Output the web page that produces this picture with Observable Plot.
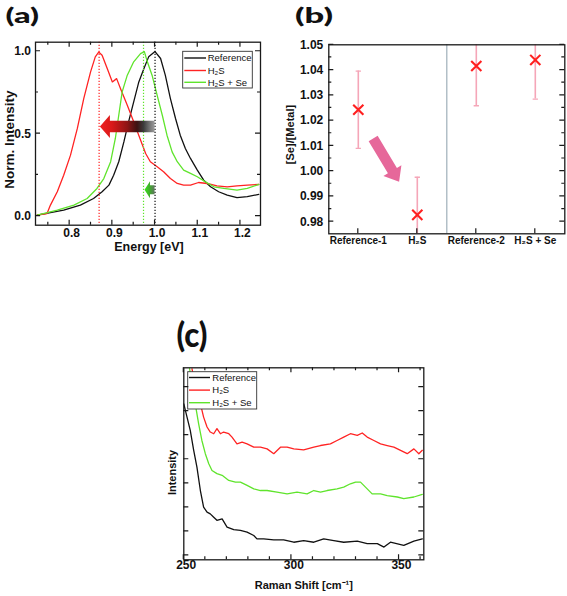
<!DOCTYPE html>
<html>
<head>
<meta charset="utf-8">
<script src="https://cdn.jsdelivr.net/npm/d3@7"></script>
<script src="https://cdn.jsdelivr.net/npm/@observablehq/plot@0.6"></script>
<style>
html,body{margin:0;padding:0;background:#fff;}
#wrap{position:relative;width:567px;height:596px;overflow:hidden;background:#fff;}
#wrap svg{position:absolute;max-width:none;}
</style>
</head>
<body>
<div id="wrap"></div>
<script>
// ---------------- Panel (a): normalized intensity vs energy ----------------
const refE = [0.724,0.786,0.825,0.856,0.876,0.892,0.903,0.915,0.927,0.938,0.95,0.962,0.974,0.985,1.0,1.013,1.024,1.036,1.048,1.059,1.071,1.083,1.099,1.114,1.13,1.149,1.169,1.192,1.216,1.243];
const refI = [0.006,0.036,0.067,0.107,0.148,0.188,0.248,0.33,0.45,0.572,0.693,0.814,0.895,0.966,0.998,0.956,0.855,0.713,0.592,0.491,0.41,0.35,0.279,0.218,0.178,0.148,0.127,0.112,0.118,0.132];
const h2sE = [0.724,0.747,0.755,0.771,0.786,0.802,0.818,0.833,0.849,0.86,0.868,0.876,0.888,0.9,0.91,0.919,0.935,0.95,0.966,0.978,0.989,1.005,1.02,1.036,1.052,1.067,1.083,1.102,1.122,1.145,1.169,1.192,1.216,1.243];
const h2sI = [0.006,0.016,0.067,0.148,0.248,0.37,0.532,0.713,0.875,0.966,0.995,0.976,0.895,0.814,0.834,0.774,0.673,0.572,0.462,0.38,0.33,0.299,0.269,0.228,0.198,0.188,0.188,0.204,0.198,0.184,0.178,0.184,0.188,0.192];
const seE = [0.724,0.771,0.81,0.841,0.864,0.88,0.896,0.907,0.915,0.923,0.935,0.95,0.966,0.975,0.982,0.993,1.005,1.017,1.028,1.04,1.052,1.067,1.083,1.099,1.118,1.138,1.161,1.192,1.216,1.243];
const seI = [0.006,0.036,0.067,0.107,0.168,0.228,0.33,0.471,0.612,0.754,0.855,0.936,0.986,0.998,0.936,0.855,0.733,0.612,0.491,0.39,0.33,0.279,0.259,0.239,0.208,0.178,0.168,0.158,0.168,0.192];
const seriesNames = ["Reference", "H₂S", "H₂S + Se"];
const seriesColors = ["#111111", "#ff2323", "#5fe42c"];
const aPeakE = [1.0, 0.869, 0.973];
const aXTicks = [0.8, 0.9, 1.0, 1.1, 1.2];
const aXMinor = [0.75, 0.85, 0.95, 1.05, 1.15];
const aYTicks = [0, 0.5, 1.0];
const aYMinor = [0.25, 0.75];
const aShiftRed = {from: 1.0, to: 0.872, y: 0.54};
const aShiftGreen = {from: 1.0, to: 0.9765, y: 0.157};

// ---------------- Panel (b): [Se]/[Metal] ratio ----------------
const bCats = ["Reference-1", "H₂S", "Reference-2", "H₂S + Se"];
const bRatio = [1.0243, 0.9827, 1.0416, 1.0440];
const bErr = [0.0153, 0.0149, 0.0157, 0.0155];
const bYTicks = [0.98, 0.99, 1.00, 1.01, 1.02, 1.03, 1.04, 1.05];
const bYMinor = [0.985, 0.995, 1.005, 1.015, 1.025, 1.035, 1.045];
const bDivider = [2.5];
const bTrend = {x1: 1.26, y1: 1.0127, x2: 1.70, y2: 0.9956};

// ---------------- Panel (c): Raman spectra ----------------
const ramRefX = [250,251.5,253,254.6,256.1,257.7,259.2,260.8,262.3,263.9,265.4,267.8,270.1,273.2,276.3,279.4,282.5,284,287.1,291.8,296.4,301.1,305.7,310.4,315,319.7,324.3,330.6,335.2,339.9,343,346,352.2,356.9,360.8];
const ramRefY = [7.3,6.75,6.2,5.37,4.67,3.7,3.01,2.8,2.73,2.59,2.46,2.52,2.18,2.07,2.04,1.97,1.83,1.69,1.69,1.65,1.65,1.55,1.62,1.55,1.69,1.62,1.55,1.6,1.49,1.49,1.35,1.55,1.42,1.6,1.69];
const ramH2sX = [253.8,254.6,256.1,257.7,259.2,260.8,262.3,263.9,265.4,267,268.5,270.9,272.4,274.7,277.1,279.4,282.5,285.6,288.7,291.8,294.9,298,301.1,305.7,310.4,313.5,318.1,321.2,324.3,327.4,330.6,332.9,335.2,338.3,341.4,344.5,347.6,350.7,353.8,356.9,359.2,360.8];
const ramH2sY = [8.76,8.42,7.86,7.31,6.75,6.34,6.13,6.06,6.27,6.06,6.13,6.06,5.92,5.64,5.71,5.64,5.5,5.5,5.43,5.23,5.5,5.5,5.43,5.39,5.5,5.57,5.64,5.78,5.92,6.06,5.99,6.09,5.92,5.78,5.64,5.57,5.5,5.37,5.23,5.43,5.23,5.37];
const ramSeX = [252.7,253.8,255.3,256.9,258.4,260,261.6,263.1,265.4,267.8,270.9,274,276.3,279.4,282.5,285.6,288.7,293.3,298,302.6,307.3,310.4,313.5,316.6,321.2,324.3,327.4,329.8,332.1,334.4,337.5,341.4,344.5,349.2,352.2,356.9,360.8];
const ramSeY = [8.76,8.14,7.31,6.47,5.78,5.23,4.81,4.53,4.4,4.33,4.12,4.05,4.05,3.91,3.77,3.7,3.7,3.63,3.56,3.63,3.56,3.7,3.63,3.7,3.77,3.84,3.98,4.05,4.05,3.84,3.56,3.56,3.49,3.43,3.36,3.43,3.54];
const cXTicks = [250, 300, 350];
const cXMinor = [260, 270, 280, 290, 310, 320, 330, 340, 360];
const cYTicks = [1, 2, 3, 4, 5, 6, 7, 8];

// ---------------- helpers ----------------
const NS = "http://www.w3.org/2000/svg";
const SANS = "'Liberation Sans', Arial, Helvetica, sans-serif";
const el = (tag, attrs) => { const e = document.createElementNS(NS, tag); for (const k in attrs) e.setAttribute(k, attrs[k]); return e; };
const rowsOf = (xs, ys) => xs.map((x, i) => ({x, y: ys[i]}));
let gradSeq = 0;

// block arrow through the scales, optionally with a gradient (tip -> tail)
function blockArrow({x1, y1, x2, y2, shaft, head, headLen, fill, stops}) {
  return (index, scales) => {
    const X1 = scales.x(x1), Y1 = scales.y(y1), X2 = scales.x(x2), Y2 = scales.y(y2);
    const dx = X2 - X1, dy = Y2 - Y1, len = Math.hypot(dx, dy);
    const ux = dx / len, uy = dy / len, nx = -uy, ny = ux;
    const bx = X2 - ux * headLen, by = Y2 - uy * headLen;
    const s = shaft / 2, h = head / 2;
    const pts = [[X1 + nx*s, Y1 + ny*s], [bx + nx*s, by + ny*s], [bx + nx*h, by + ny*h], [X2, Y2],
                 [bx - nx*h, by - ny*h], [bx - nx*s, by - ny*s], [X1 - nx*s, Y1 - ny*s]];
    const g = el("g", {});
    let paint = fill;
    if (stops) {
      const id = "arrowgrad" + (++gradSeq);
      const defs = el("defs", {});
      const lg = el("linearGradient", {id, gradientUnits: "userSpaceOnUse", x1: X2, y1: Y2, x2: X1, y2: Y1});
      for (const [o, c, op] of stops) lg.appendChild(el("stop", {offset: o, "stop-color": c, "stop-opacity": op ?? 1}));
      defs.appendChild(lg); g.appendChild(defs);
      paint = `url(#${id})`;
    }
    g.appendChild(el("path", {d: "M" + pts.map(p => p.join(",")).join("L") + "Z", fill: paint}));
    return g;
  };
}

// inward ticks on the frame
function innerTicks({xMajor = [], xMinor = [], yMajor = [], yMinor = [], xSides = "bt", ySides = "lr", major = 5, minor = 3}) {
  return (index, scales, values, dim) => {
    const L = dim.marginLeft, R = dim.width - dim.marginRight, T = dim.marginTop, B = dim.height - dim.marginBottom;
    let d = "";
    const addX = (arr, len) => { for (const v of arr) { const p = scales.x(v); if (xSides.includes("b")) d += `M${p},${B}v${-len}`; if (xSides.includes("t")) d += `M${p},${T}v${len}`; } };
    const addY = (arr, len) => { for (const v of arr) { const p = scales.y(v); if (ySides.includes("l")) d += `M${L},${p}h${len}`; if (ySides.includes("r")) d += `M${R},${p}h${-len}`; } };
    addX(xMajor, major); addX(xMinor, minor); addY(yMajor, major); addY(yMinor, minor);
    return el("path", {d, fill: "none", stroke: "#1a1a1a", "stroke-width": 1.2});
  };
}

// legend box anchored to a frame corner
function legendBox({corner, offX, offY, w, h, rowY, s1, s2, tx, fontSize}) {
  return (index, scales, values, dim) => {
    const L = dim.marginLeft, R = dim.width - dim.marginRight, T = dim.marginTop;
    const left = corner === "right" ? R - offX - w : L + offX, top = T + offY;
    const g = el("g", {});
    g.appendChild(el("rect", {x: left, y: top, width: w, height: h, fill: "#fff", stroke: "#333", "stroke-width": 0.9}));
    seriesNames.forEach((name, i) => {
      const y = top + rowY[i];
      g.appendChild(el("line", {x1: left + s1, x2: left + s2, y1: y, y2: y, stroke: seriesColors[i], "stroke-width": 1.4}));
      const t = el("text", {x: left + tx, y, dy: "0.35em", "text-anchor": "start", "font-size": fontSize, "font-family": SANS, "font-weight": "normal", fill: "#111"});
      t.textContent = name;
      g.appendChild(t);
    });
    return g;
  };
}

const wrap = document.getElementById("wrap");
const place = (svg, left, top, w, h) => {
  svg.style.left = left + "px"; svg.style.top = top + "px";
  svg.style.width = w + "px"; svg.style.height = h + "px";
  wrap.appendChild(svg);
};
const baseStyle = {fontFamily: SANS, background: "transparent", overflow: "visible", color: "#111"};

// ---------------- Panel (a) ----------------
const aRows = [rowsOf(refE, refI), rowsOf(h2sE, h2sI), rowsOf(seE, seI)];
const svgA = Plot.plot({
  width: 290, height: 262,
  marginLeft: 35, marginRight: 30, marginTop: 41.7, marginBottom: 37.3,
  x: {domain: [0.72, 1.247], axis: null},
  y: {domain: [-0.055, 1.055], axis: null},
  style: baseStyle,
  marks: [
    ...aRows.map((rows, k) => Plot.line(rows, {x: "x", y: "y", stroke: seriesColors[k], strokeWidth: 1.3, clip: true})),
    ...aPeakE.map((e, k) => Plot.ruleX([e], {x: d => d, stroke: seriesColors[k], strokeWidth: 1.2, strokeDasharray: "1.4,1.6"})),
    blockArrow({x1: aShiftRed.from, y1: aShiftRed.y, x2: aShiftRed.to, y2: aShiftRed.y, shaft: 11.5, head: 23, headLen: 10,
      stops: [[0, "#ee2222"], [0.22, "#d91a1a"], [0.5, "#8e1515"], [0.68, "#3d1212"], [0.8, "#3c3c3c"], [1, "#8a8a8a", 0.85]]}),
    blockArrow({x1: aShiftGreen.from, y1: aShiftGreen.y, x2: aShiftGreen.to, y2: aShiftGreen.y, shaft: 9, head: 17, headLen: 5.5,
      stops: [[0, "#39e21a"], [0.5, "#3fae2a"], [1, "#4d6a4d", 0.9]]}),
    innerTicks({xMajor: aXTicks, xMinor: aXMinor, yMajor: aYTicks, yMinor: aYMinor}),
    Plot.frame({stroke: "#1a1a1a", strokeWidth: 1.3}),
    legendBox({corner: "right", offX: 7.7, offY: 9.6, w: 69.6, h: 36.7, rowY: [6.7, 19.2, 31], s1: 1.6, s2: 23.3, tx: 25, fontSize: 9.5}),
    Plot.text(aXTicks, {x: d => d, text: d => d.toFixed(1), frameAnchor: "bottom", textAnchor: "middle", dy: 11.8, dx: 2, fontSize: 12, fontWeight: "bold"}),
    Plot.text(aYTicks, {y: d => d, text: d => d.toFixed(1), frameAnchor: "left", textAnchor: "end", dx: -4.5, fontSize: 12, fontWeight: "bold"}),
    Plot.text(["Energy [eV]"], {text: d => d, frameAnchor: "bottom", textAnchor: "middle", dy: 25.8, dx: 1, fontSize: 12.5, fontWeight: "bold"}),
    Plot.text(["Norm. Intensity"], {text: d => d, frameAnchor: "left", textAnchor: "middle", rotate: -90, dx: -26.2, dy: 6, fontSize: 13.5, fontWeight: "bold"})
  ]
});
place(svgA, 0, 0, 290, 262);

// ---------------- Panel (b) ----------------
const bRows = bCats.map((c, i) => ({i: i + 1, v: bRatio[i], lo: bRatio[i] - bErr[i], hi: bRatio[i] + bErr[i]}));
const bIdx = bCats.map((c, i) => i + 1);
const svgB = Plot.plot({
  width: 289, height: 262,
  marginLeft: 50.3, marginRight: 2.7, marginTop: 44.3, marginBottom: 28.7,
  x: {domain: [0.5, 4.5], axis: null},
  y: {domain: [0.9752, 1.05], axis: null},
  style: baseStyle,
  marks: [
    Plot.ruleX(bDivider, {x: d => d, stroke: "#9fb0ba", strokeWidth: 1.2}),
    Plot.ruleX(bRows, {x: "i", y1: "lo", y2: "hi", stroke: "#f5a6b8", strokeWidth: 1.6, clip: true}),
    Plot.link(bRows, {x1: d => d.i - 0.045, x2: d => d.i + 0.045, y1: "lo", y2: "lo", stroke: "#f5a6b8", strokeWidth: 1.4, clip: true}),
    Plot.link(bRows, {x1: d => d.i - 0.045, x2: d => d.i + 0.045, y1: "hi", y2: "hi", stroke: "#f5a6b8", strokeWidth: 1.4, clip: true}),
    blockArrow({...bTrend, shaft: 10.5, head: 21, headLen: 13, fill: "#e6689a"}),
    Plot.dot(bRows, {x: "i", y: "v", symbol: "times", r: 4.7, stroke: "#ff1f1f", strokeWidth: 2.1}),
    innerTicks({xMajor: bIdx, xSides: "b", yMajor: bYTicks, yMinor: bYMinor}),
    Plot.frame({stroke: "#1a1a1a", strokeWidth: 1.3}),
    Plot.text(bIdx, {x: d => d, text: d => bCats[d - 1], frameAnchor: "bottom", textAnchor: "middle", dy: 10, fontSize: 10, fontWeight: "bold"}),
    Plot.text(bYTicks, {y: d => d, text: d => d.toFixed(2), frameAnchor: "left", textAnchor: "end", dx: -5.5, fontSize: 12, fontWeight: "bold"}),
    Plot.text(["[Se]/[Metal]"], {text: d => d, frameAnchor: "left", textAnchor: "middle", rotate: -90, dx: -38.8, dy: -4.8, fontSize: 11, fontWeight: "bold"})
  ]
});
place(svgB, 278, 0, 289, 262);

// ---------------- Panel (c) ----------------
const cRows = [rowsOf(ramRefX, ramRefY), rowsOf(ramH2sX, ramH2sY), rowsOf(ramSeX, ramSeY)];
const svgC = Plot.plot({
  width: 300, height: 296,
  marginLeft: 33.3, marginRight: 26.7, marginTop: 67.3, marginBottom: 36.7,
  x: {domain: [250, 361.5], axis: null},
  y: {domain: [0.82, 8.8], axis: null},
  style: baseStyle,
  marks: [
    ...cRows.map((rows, k) => Plot.line(rows, {x: "x", y: "y", stroke: seriesColors[k], strokeWidth: 1.3, clip: true})),
    legendBox({corner: "left", offX: 4.4, offY: 4.4, w: 69, h: 37.3, rowY: [5.8, 18.4, 31], s1: 1.3, s2: 22.3, tx: 24.6, fontSize: 9.5}),
    innerTicks({xMajor: cXTicks, xMinor: cXMinor, yMajor: cYTicks}),
    Plot.frame({stroke: "#1a1a1a", strokeWidth: 1.3}),
    Plot.text(cXTicks, {x: d => d, text: d => String(d), frameAnchor: "bottom", textAnchor: "middle", dy: 8.7, dx: 2.4, fontSize: 12, fontWeight: "bold"}),
    Plot.text(["Raman Shift [cm⁻¹]"], {text: d => d, frameAnchor: "bottom", textAnchor: "middle", dy: 29, fontSize: 11, fontWeight: "bold"}),
    Plot.text(["Intensity"], {text: d => d, frameAnchor: "left", textAnchor: "middle", rotate: -90, dx: -11.6, dy: 8.7, fontSize: 11, fontWeight: "bold"})
  ]
});
place(svgC, 150, 300, 300, 296);

// ---------------- Panel letters ----------------
const over = el("svg", {width: 567, height: 596, viewBox: "0 0 567 596"});
over.style.left = "0px"; over.style.top = "0px"; over.style.pointerEvents = "none";
const panelLetters = [
  {t: "(a)", x: 5.5, y: 23, size: 21, len: 33.5},
  {t: "(b)", x: 295, y: 23, size: 21, len: 38},
  {t: "(c)", x: 176.5, y: 347, size: 34, len: 31}
];
for (const p of panelLetters) {
  const t = el("text", {x: p.x, y: p.y, "font-size": p.size, "font-family": "Lato, 'Open Sans', sans-serif", "font-weight": 900,
    "text-anchor": "start", textLength: p.len, lengthAdjust: "spacingAndGlyphs", fill: "#111"});
  t.textContent = p.t;
  over.appendChild(t);
}
wrap.appendChild(over);
</script>
</body>
</html>
